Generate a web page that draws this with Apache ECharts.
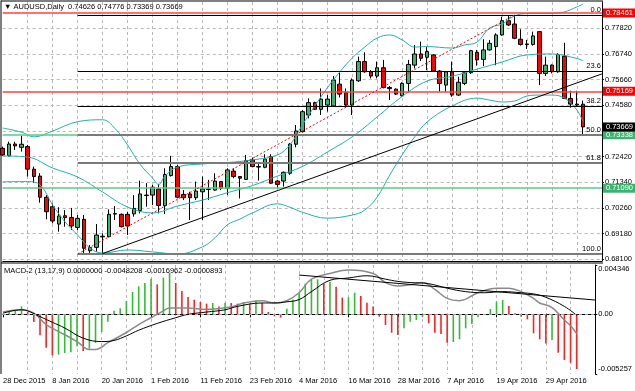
<!DOCTYPE html>
<html><head><meta charset="utf-8">
<script src="https://cdn.jsdelivr.net/npm/echarts@6/dist/echarts.min.js"></script>
<style>html,body{margin:0;padding:0;background:#fff}#c{width:635px;height:391px}</style>
</head><body><div id="c"></div>
<script>
const FONT = 'Liberation Sans';
const dates = ['28 Dec 2015','29 Dec 2015','30 Dec 2015','31 Dec 2015',
'4 Jan 2016','5 Jan 2016','6 Jan 2016','7 Jan 2016','8 Jan 2016',
'11 Jan 2016','12 Jan 2016','13 Jan 2016','14 Jan 2016','15 Jan 2016',
'18 Jan 2016','19 Jan 2016','20 Jan 2016','21 Jan 2016','22 Jan 2016',
'25 Jan 2016','26 Jan 2016','27 Jan 2016','28 Jan 2016','29 Jan 2016',
'1 Feb 2016','2 Feb 2016','3 Feb 2016','4 Feb 2016','5 Feb 2016',
'8 Feb 2016','9 Feb 2016','10 Feb 2016','11 Feb 2016','12 Feb 2016',
'15 Feb 2016','16 Feb 2016','17 Feb 2016','18 Feb 2016','19 Feb 2016',
'22 Feb 2016','23 Feb 2016','24 Feb 2016','25 Feb 2016','26 Feb 2016','29 Feb 2016',
'1 Mar 2016','2 Mar 2016','3 Mar 2016','4 Mar 2016',
'7 Mar 2016','8 Mar 2016','9 Mar 2016','10 Mar 2016','11 Mar 2016',
'14 Mar 2016','15 Mar 2016','16 Mar 2016','17 Mar 2016','18 Mar 2016',
'21 Mar 2016','22 Mar 2016','23 Mar 2016','24 Mar 2016','25 Mar 2016',
'28 Mar 2016','29 Mar 2016','30 Mar 2016','31 Mar 2016','1 Apr 2016',
'4 Apr 2016','5 Apr 2016','6 Apr 2016','7 Apr 2016','8 Apr 2016',
'11 Apr 2016','12 Apr 2016','13 Apr 2016','14 Apr 2016','15 Apr 2016',
'18 Apr 2016','19 Apr 2016','20 Apr 2016','21 Apr 2016','22 Apr 2016',
'25 Apr 2016','26 Apr 2016','27 Apr 2016','28 Apr 2016','29 Apr 2016',
'2 May 2016','3 May 2016','4 May 2016','5 May 2016','6 May 2016'];
const futureSlots = [' ', '  ', '   '];

const opens  = [0.7277,0.7246,0.7295,0.7281,0.7284,0.7189,0.7160,0.7071,0.7031,0.6958,0.6993,0.6986,0.6944,0.6978,0.6846,0.6860,0.6904,0.6905,0.7002,0.6999,0.6999,0.7001,0.7015,0.7078,0.7080,0.7106,0.7036,0.7162,0.7200,0.7083,0.7085,0.7069,0.7094,0.7106,0.7101,0.7137,0.7109,0.7181,0.7158,0.7146,0.7228,0.7200,0.7197,0.7242,0.7139,0.7139,0.7172,0.7294,0.7347,0.7417,0.7469,0.7441,0.7459,0.7455,0.7547,0.7511,0.7459,0.7561,0.7642,0.7599,0.7581,0.7616,0.7533,0.7526,0.7498,0.7550,0.7627,0.7674,0.7660,0.7670,0.7602,0.7543,0.7599,0.7501,0.7550,0.7595,0.7681,0.7651,0.7691,0.7705,0.7754,0.7814,0.7800,0.7736,0.7716,0.7714,0.7768,0.7592,0.7627,0.7599,0.7665,0.7487,0.7459,0.74626];
const highs  = [0.7284,0.7305,0.7305,0.7329,0.7291,0.7200,0.7172,0.7080,0.7045,0.7029,0.7017,0.7026,0.6996,0.6996,0.6870,0.6958,0.6919,0.7020,0.7034,0.7003,0.7010,0.7080,0.7141,0.7130,0.7123,0.7127,0.7193,0.7245,0.7207,0.7101,0.7094,0.7137,0.7158,0.7144,0.7172,0.7139,0.7193,0.7193,0.7160,0.7249,0.7238,0.7214,0.7252,0.7252,0.7144,0.7179,0.7298,0.7375,0.7438,0.7487,0.7473,0.7529,0.7501,0.7581,0.7595,0.7529,0.7571,0.7663,0.7681,0.7606,0.7642,0.7649,0.7539,0.7529,0.7555,0.7649,0.7712,0.7726,0.7705,0.7674,0.7606,0.7602,0.7642,0.7578,0.7602,0.7691,0.7691,0.7736,0.7733,0.7761,0.7831,0.7834,0.7835,0.7778,0.7733,0.7768,0.7770,0.7663,0.7630,0.7677,0.7721,0.7519,0.7519,0.74776];
const lows   = [0.7245,0.7242,0.7270,0.7263,0.7158,0.7132,0.7048,0.6978,0.6961,0.6926,0.6947,0.6933,0.6933,0.6828,0.6835,0.6842,0.6835,0.6902,0.6975,0.6944,0.6912,0.6989,0.7003,0.7031,0.7038,0.7003,0.7000,0.7158,0.7066,0.7059,0.6975,0.7059,0.6975,0.7059,0.7099,0.7101,0.7080,0.7151,0.7066,0.7144,0.7197,0.7141,0.7193,0.7127,0.7109,0.7116,0.7165,0.7281,0.7343,0.7403,0.7438,0.7417,0.7431,0.7452,0.7491,0.7452,0.7417,0.7557,0.7595,0.7571,0.7571,0.7529,0.7480,0.7501,0.7494,0.7515,0.7613,0.7644,0.7606,0.7599,0.7515,0.7515,0.7494,0.7497,0.7543,0.7590,0.7625,0.7623,0.7688,0.7627,0.7751,0.7792,0.7736,0.7709,0.7695,0.7709,0.7543,0.7581,0.7592,0.7595,0.7484,0.7448,0.7452,0.73369];
const closes = [0.7249,0.7295,0.7287,0.7294,0.7189,0.7158,0.7071,0.7010,0.6971,0.6992,0.6985,0.6950,0.6982,0.6856,0.6859,0.6912,0.6907,0.6999,0.7000,0.6947,0.6950,0.7024,0.7085,0.7080,0.7113,0.7036,0.7167,0.7200,0.7071,0.7069,0.7069,0.7097,0.7106,0.7104,0.7139,0.7109,0.7186,0.7158,0.7151,0.7225,0.7200,0.7198,0.7232,0.7130,0.7125,0.7176,0.7295,0.7350,0.7431,0.7469,0.7441,0.7484,0.7484,0.7564,0.7505,0.7459,0.7564,0.7642,0.7599,0.7581,0.7616,0.7533,0.7528,0.7505,0.7550,0.7630,0.7674,0.7656,0.7684,0.7602,0.7550,0.7599,0.7501,0.7555,0.7595,0.7688,0.7649,0.7691,0.7719,0.7754,0.7814,0.7796,0.7740,0.7714,0.7714,0.7750,0.7592,0.7627,0.7599,0.7672,0.7487,0.7463,0.7463,0.73669];

// Bollinger bands: [bar index, price]
const bbUpper = [[0,0.7362],[3,0.7345],[5,0.7325],[8,0.7350],[12,0.7389],[16,0.7397],[18,0.7360],[20,0.7291],[22,0.7210],[24,0.7152],[25,0.7125],[26,0.7160],[28,0.7198],[32,0.7211],[36,0.7217],[40,0.7228],[44,0.7249],[46,0.7291],[48,0.7375],[50,0.7455],[52,0.7531],[54,0.7598],[56,0.7657],[58,0.7703],[60,0.7741],[62,0.7754],[64,0.7733],[66,0.7703],[68,0.7705],[72,0.7699],[74,0.7712],[76,0.7724],[78,0.7783],[80,0.7800],[82,0.7834],[84,0.7844],[86,0.7845],[88,0.7845],[90,0.7851],[92,0.7872],[93,0.7884]];
const bbMiddle = [[0,0.7245],[4,0.7240],[8,0.7194],[12,0.7156],[16,0.7093],[20,0.7030],[24,0.7005],[28,0.7034],[32,0.7059],[36,0.7090],[40,0.7120],[44,0.7160],[48,0.7200],[52,0.7261],[56,0.7325],[60,0.7409],[64,0.7495],[68,0.7560],[72,0.7580],[76,0.7610],[80,0.7640],[84,0.7670],[88,0.7674],[92,0.7655],[93,0.7645]];
const bbLower = [[0,0.7136],[4,0.7137],[6,0.7122],[8,0.7038],[10,0.6967],[12,0.6912],[14,0.6857],[16,0.6836],[20,0.6849],[24,0.6841],[28,0.6832],[32,0.6862],[34,0.6900],[36,0.6955],[38,0.6979],[40,0.7005],[44,0.7043],[46,0.7029],[48,0.7008],[52,0.6983],[56,0.6996],[58,0.7017],[60,0.7072],[62,0.7164],[64,0.7249],[66,0.7325],[68,0.7388],[72,0.7455],[76,0.7488],[78,0.7480],[80,0.7472],[82,0.7476],[84,0.7497],[86,0.7501],[88,0.7501],[90,0.7488],[92,0.7438],[93,0.7388]];

const macdHist = [0.00006,0.00021,0.00035,0.00070,0.00020,-0.00068,-0.00185,-0.00294,-0.00361,-0.00355,-0.00341,-0.00335,-0.00282,-0.00323,-0.00303,-0.00252,-0.00156,-0.00065,0.00032,0.00053,0.00117,0.00197,0.00247,0.00276,0.00314,0.00264,0.00323,0.00364,0.00276,0.00206,0.00153,0.00129,0.00109,0.00094,0.00100,0.00070,0.00103,0.00100,0.00094,0.00109,0.00094,0.00123,0.00100,0.00021,-0.00018,-0.00029,0.00050,0.00129,0.00188,0.00270,0.00305,0.00308,0.00267,0.00288,0.00244,0.00147,0.00150,0.00191,0.00162,0.00103,0.00068,-0.00021,-0.00094,-0.00162,-0.00182,-0.00123,-0.00065,-0.00050,-0.00026,-0.00079,-0.00162,-0.00173,-0.00250,-0.00244,-0.00220,-0.00123,-0.00085,-0.00026,-0.00006,0.00047,0.00112,0.00126,0.00073,0.00009,-0.00021,-0.00044,-0.00167,-0.00220,-0.00256,-0.00226,-0.00338,-0.00402,-0.00426,-0.0048208];
const macdLine = [[0,0.0002],[3,0.0004],[5,0.0001],[7,-0.0009],[10,-0.0018],[12,-0.0024],[14,-0.0031],[15,-0.0031],[17,-0.0025],[20,-0.0016],[22,-0.0009],[24,-0.0003],[26,0.0003],[27,0.00055],[30,0.00055],[33,0.00044],[37,0.00067],[39,0.0010],[42,0.0012],[44,0.0010],[46,0.0012],[48,0.0019],[50,0.0031],[53,0.0036],[56,0.0039],[60,0.0036],[62,0.0028],[64,0.0025],[66,0.0026],[68,0.0028],[70,0.0022],[72,0.0014],[74,0.0012],[77,0.0019],[80,0.0023],[82,0.0023],[84,0.0020],[86,0.0014],[87,0.0010],[89,0.0006],[91,-0.0005],[92,-0.0010],[93,-0.0016962]];
const signalLine = [[0,0.0001],[3,0.0004],[4,0.0003],[6,-0.0002],[8,-0.0007],[10,-0.0012],[13,-0.0021],[16,-0.0024],[18,-0.0023],[20,-0.0019],[22,-0.0014],[25,-0.0008],[28,-0.0003],[30,0.0000],[33,0.0002],[36,0.0004],[38,0.0007],[42,0.0010],[44,0.0010],[46,0.0011],[48,0.0013],[50,0.0020],[53,0.0030],[56,0.0032],[59,0.0034],[62,0.0031],[64,0.0029],[66,0.0028],[69,0.0027],[72,0.0023],[75,0.0020],[78,0.0019],[81,0.0020],[84,0.0019],[86,0.0018],[88,0.0015],[91,0.0007],[93,-0.0000893]];

const priceTicks = [0.68100,0.69180,0.70260,0.71340,0.72420,0.73500,0.74580,0.75660,0.76740,0.77820];
const macdTicks = [-0.005257, 0, 0.004346];
const userLines = [
  {value: 0.78461, color: '#ff4040', box: '#ff0000'},
  {value: 0.75169, color: '#ff4040', box: '#ff0000'},
  {value: 0.73338, color: '#5cc880', box: '#3cb371'},
  {value: 0.71090, color: '#5cc880', box: '#3cb371'}
];
const lastPrice = 0.73669;
const fibHigh = 0.78380, fibLow = 0.68321, fibStartBar = 12, fibHighBar = 82;
const fibRatios = [0, 0.236, 0.382, 0.5, 0.618, 1];
const fibNames = ['0.0', '23.6', '38.2', '50.0', '61.8', '100.0'];
const trendLine = [[16, 0.68340], [96, 0.75900]];
const macdTrend = [[48, 0.00346], [96, 0.00126]];

const categories = dates.concat(futureSlots);
const lastIdx = categories.length - 1;
const grid4 = (i) => i > 0 && i % 4 === 0;
const every8 = (i) => i % 8 === 0 && i < dates.length;
const txt = {fontFamily: FONT, fontSize: 7.5, color: '#000'};

const fibMarks = fibRatios.map((r, k) => {
  const v = fibHigh - r * (fibHigh - fibLow);
  const gray = r >= 0.5;
  return [
    {coord: [fibStartBar, v], name: fibNames[k],
     lineStyle: {color: gray ? '#7a7a7a' : '#000', width: gray ? 2 : 1.2, type: 'solid'},
     label: {show: true, position: 'insideEndTop', formatter: '{b}', distance: 1, ...txt}},
    {coord: [lastIdx, v]}
  ];
});
const boxLabel = (text, bg) => ({show: true, position: 'end', formatter: text, distance: 1, opacity: 1,
  backgroundColor: bg, color: '#fff', padding: [1, 3, 0, 3], fontFamily: FONT, fontSize: 7.5});
const userMarks = userLines.map(u => ({
  yAxis: u.value,
  lineStyle: {color: u.color, width: 1.5, type: 'solid'},
  label: boxLabel(u.value.toFixed(5), u.box)
}));
const lastMark = {yAxis: lastPrice, lineStyle: {color: 'rgba(0,0,0,0)', width: 1, opacity: 1},
  label: boxLabel(lastPrice.toFixed(5), '#000')};

const histData = macdHist.map((v, i) => ({
  value: v,
  itemStyle: {color: (i === 0 || v >= macdHist[i - 1]) ? '#33bb33' : '#ff2020'}
}));

const option = {
  animation: false,
  backgroundColor: '#fff',
  title: [
    {text: '\u25BC AUDUSD,Daily  0.74626 0.74776 0.73369 0.73669', left: 4, top: 3, padding: 0,
     textStyle: {...txt, fontWeight: 'normal'}},
    {text: 'MACD-2 (13,17,9) 0.0000000 -0.0048208 -0.0016962 -0.0000893', left: 4, top: 267, padding: 0,
     textStyle: {...txt, fontWeight: 'normal'}}
  ],
  grid: [
    {left: 2.7, right: 32, top: 2, height: 259},
    {left: 2.7, right: 32, top: 265, height: 109}
  ],
  xAxis: [
    {type: 'category', gridIndex: 0, data: categories, boundaryGap: false,
     axisLine: {show: true, lineStyle: {color: '#000', width: 1}},
     axisTick: {show: false}, axisLabel: {show: false},
     splitLine: {show: true, interval: grid4, lineStyle: {color: '#b8b8b8', type: [3, 3], width: 1}}},
    {type: 'category', gridIndex: 1, data: categories, boundaryGap: false,
     axisLine: {show: true, lineStyle: {color: '#000', width: 1}},
     axisTick: {show: true, interval: every8, length: 3, lineStyle: {color: '#000'}},
     axisLabel: {show: true, interval: every8, align: 'left', margin: 3, ...txt},
     splitLine: {show: true, interval: grid4, lineStyle: {color: '#b8b8b8', type: [3, 3], width: 1}}}
  ],
  yAxis: [
    {type: 'value', gridIndex: 0, position: 'right', min: 0.68026, max: 0.78927,
     axisLine: {show: true, lineStyle: {color: '#000'}},
     axisTick: {show: true, customValues: priceTicks, length: 2, lineStyle: {color: '#000'}},
     axisLabel: {show: true, customValues: priceTicks, formatter: v => v.toFixed(5), margin: 3, ...txt},
     splitLine: {show: true, lineStyle: {color: '#b8b8b8', type: [3, 3], width: 1}}},
    {type: 'value', gridIndex: 1, position: 'right', min: macdTicks[0], max: macdTicks[2],
     axisLine: {show: true, lineStyle: {color: '#000'}},
     axisTick: {show: true, customValues: macdTicks, length: 2, lineStyle: {color: '#000'}},
     axisLabel: {show: true, customValues: macdTicks, margin: 3, ...txt,
       formatter: v => v === 0 ? '0.00' : (v > 0 ? '{t|' + v.toFixed(6) + '}' : '{b|' + v.toFixed(6) + '}'),
       rich: {t: {padding: [8, 0, 0, 0], ...txt}, b: {padding: [0, 0, 10, 0], ...txt}}},
     splitLine: {show: false}}
  ],
  series: [
    {type: 'candlestick', xAxisIndex: 0, yAxisIndex: 0, barWidth: 4, clip: false, z: 3,
     data: opens.map((o, i) => [o, closes[i], lows[i], highs[i]]),
     itemStyle: {color: '#3cb371', color0: '#ff0000', borderColor: '#000', borderColor0: '#000', borderWidth: 1},
     markLine: {symbol: 'none', silent: true, animation: false, precision: 6,
       data: [
         ...userMarks, lastMark, ...fibMarks,
         [{coord: [fibStartBar, fibLow], lineStyle: {color: '#ff0000', type: [2, 2], width: 1}},
          {coord: [fibHighBar, fibHigh]}],
         [{coord: trendLine[0], lineStyle: {color: '#000', type: 'solid', width: 1}},
          {coord: trendLine[1]}]
       ]}},
    {type: 'line', name: 'BB upper', xAxisIndex: 0, yAxisIndex: 0, data: bbUpper, smooth: 0.4, symbol: 'none', z: 4,
     lineStyle: {color: '#20b2aa', width: 1}},
    {type: 'line', name: 'BB middle', xAxisIndex: 0, yAxisIndex: 0, data: bbMiddle, smooth: 0.4, symbol: 'none', z: 4,
     lineStyle: {color: '#20b2aa', width: 1}},
    {type: 'line', name: 'BB lower', xAxisIndex: 0, yAxisIndex: 0, data: bbLower, smooth: 0.4, symbol: 'none', z: 4,
     lineStyle: {color: '#20b2aa', width: 1}},
    {type: 'bar', xAxisIndex: 1, yAxisIndex: 1, data: histData, barWidth: 1.6,
     markLine: {symbol: 'none', silent: true, animation: false, precision: 8,
       data: [
         {yAxis: 0, lineStyle: {color: '#a0a0a0', type: [3, 3], width: 1}, label: {show: false}},
         [{coord: macdTrend[0], lineStyle: {color: '#000', type: 'solid', width: 1}, label: {show: false}},
          {coord: macdTrend[1]}]
       ]}},
    {type: 'line', name: 'MACD', xAxisIndex: 1, yAxisIndex: 1, data: macdLine, smooth: 0.4, symbol: 'none',
     lineStyle: {color: '#8a8a8a', width: 1.5}},
    {type: 'line', name: 'Signal', xAxisIndex: 1, yAxisIndex: 1, data: signalLine, smooth: 0.4, symbol: 'none',
     lineStyle: {color: '#000', width: 1}}
  ],
  graphic: [
    {type: 'line', shape: {x1: 1, y1: 0.5, x2: 1, y2: 374}, style: {stroke: '#000', lineWidth: 1}},
    {type: 'line', shape: {x1: 1, y1: 1, x2: 603, y2: 1}, style: {stroke: '#000', lineWidth: 1}},
    {type: 'line', shape: {x1: 1, y1: 263, x2: 603, y2: 263}, style: {stroke: '#000', lineWidth: 1}}
  ]
};
const chart = echarts.init(document.getElementById('c'));
chart.setOption(option);
</script>
</body></html>
